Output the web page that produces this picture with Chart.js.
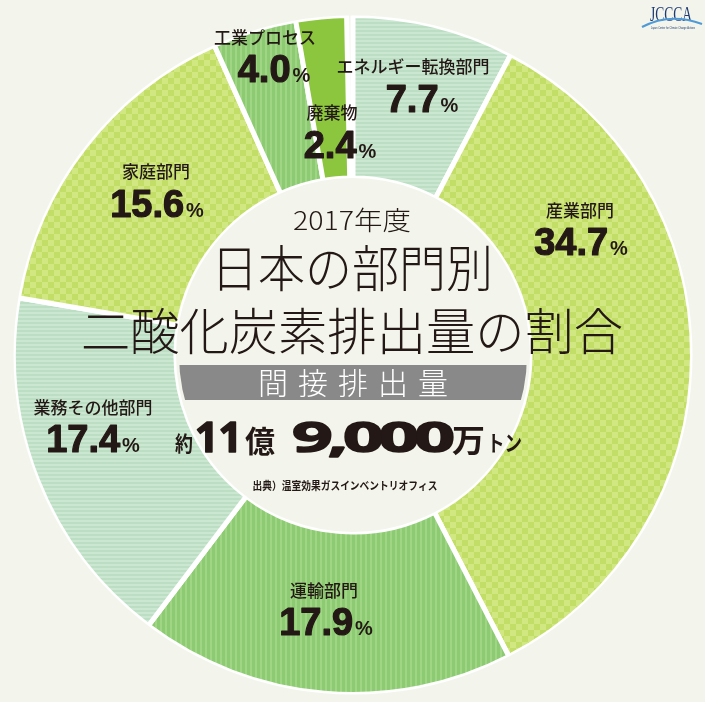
<!DOCTYPE html>
<html lang="ja">
<head>
<meta charset="utf-8">
<title>日本の部門別二酸化炭素排出量の割合</title>
<script src="https://cdn.jsdelivr.net/npm/chart.js@4.4.0/dist/chart.umd.min.js"></script>
<style>
  html, body { margin: 0; padding: 0; background: #f3f5ec; }
  #chart { display: block; }
</style>
</head>
<body>
<canvas id="chart" width="705" height="702"></canvas>
<script>
// data (clockwise from 12 o'clock)
const sectors = ['エネルギー転換部門', '産業部門', '運輸部門', '業務その他部門', '家庭部門', '工業プロセス', '廃棄物'];
const shares = [7.7, 34.7, 17.9, 17.4, 15.6, 4.0, 2.4];
const patternKinds = ['hstripe', 'checker', 'vstripe', 'hstripe', 'checker', 'vstripe', 'solid'];

// where each sector's text sits (label centre, percent group centre / baseline)
const labelPos = [
  { x: 413, y: 67, px: 422, py: 112 },
  { x: 580, y: 211, px: 581, py: 255 },
  { x: 324, y: 591, px: 326, py: 635 },
  { x: 93, y: 408, px: 93, py: 452 },
  { x: 156, y: 172, px: 157, py: 217 },
  { x: 265, y: 38, px: 274, py: 82 },
  { x: 332, y: 113, px: 340, py: 158 }
];

const BG = '#f3f5ec';
const INK = '#231815';
const JP = '"Noto Sans CJK JP", "Noto Sans CJK SC", sans-serif';
const NUM = '"Liberation Sans", Arial, sans-serif';

function makePattern(kind) {
  const c = document.createElement('canvas');
  const g = c.getContext('2d');
  if (kind === 'checker') {
    c.width = 12; c.height = 12;
    g.fillStyle = '#c3de66'; g.fillRect(0, 0, 12, 12);
    g.fillStyle = '#d0e782';
    g.fillRect(0, 0, 6, 6); g.fillRect(6, 6, 6, 6);
  } else if (kind === 'hstripe') {
    c.width = 4; c.height = 4;
    g.fillStyle = '#bcdfc4'; g.fillRect(0, 0, 4, 4);
    g.fillStyle = '#cbe7d1'; g.fillRect(0, 0, 4, 2);
  } else if (kind === 'vstripe') {
    c.width = 5; c.height = 5;
    g.fillStyle = '#8ccb71'; g.fillRect(0, 0, 5, 5);
    g.fillStyle = '#9fd585'; g.fillRect(0, 0, 2, 5);
  } else {
    return '#8cc63e';
  }
  return g.createPattern(c, 'repeat');
}

// text drawn squeezed/stretched to a given width, optionally thickened
function fitText(ctx, text, x, y, font, width, align, weight) {
  ctx.save();
  ctx.font = font;
  const w = ctx.measureText(text).width;
  const s = width ? width / w : 1;
  ctx.translate(x, y);
  ctx.scale(s, 1);
  ctx.textAlign = align || 'center';
  if (weight) {
    ctx.lineWidth = weight;
    ctx.lineJoin = 'round';
    ctx.strokeStyle = ctx.fillStyle;
    ctx.strokeText(text, 0, 0);
  }
  ctx.fillText(text, 0, 0);
  ctx.restore();
}

const overlay = {
  id: 'overlay',
  beforeDraw(chart) {
    const ctx = chart.ctx;
    ctx.save();
    ctx.fillStyle = BG;
    ctx.fillRect(0, 0, chart.width, chart.height);
    ctx.restore();
  },
  afterDatasetsDraw(chart) {
    const ctx = chart.ctx;
    const arc = chart.getDatasetMeta(0).data[0];
    const cx = arc.x, cy = arc.y;
    const rIn = arc.innerRadius, rOut = arc.outerRadius;

    // hide the white border halo on the outer and inner rims
    ctx.save();
    ctx.strokeStyle = BG;
    ctx.lineWidth = 3;
    ctx.beginPath(); ctx.arc(cx, cy, rOut + 1.5, 0, Math.PI * 2); ctx.stroke();
    ctx.beginPath(); ctx.arc(cx, cy, rIn - 1.5, 0, Math.PI * 2); ctx.stroke();
    ctx.restore();

    // sector labels
    ctx.save();
    ctx.fillStyle = INK;
    sectors.forEach((name, i) => {
      const p = labelPos[i];
      ctx.textBaseline = 'middle';
      ctx.font = '500 17px ' + JP;
      ctx.textAlign = 'center';
      ctx.fillText(name, p.x, p.y);

      ctx.textBaseline = 'alphabetic';
      const num = shares[i].toFixed(1);
      ctx.font = 'bold 38px ' + NUM;
      const nw = ctx.measureText(num).width;
      ctx.font = 'bold 20px ' + NUM;
      const pw = ctx.measureText('%').width;
      const left = p.px - (nw + 2 + pw) / 2;
      fitText(ctx, num, left, p.py, 'bold 38px ' + NUM, 0, 'left', 1.2);
      fitText(ctx, '%', left + nw + 2, p.py, 'bold 20px ' + NUM, 0, 'left');
    });
    ctx.restore();

    // centre titles
    ctx.save();
    ctx.fillStyle = INK;
    ctx.textBaseline = 'middle';
    fitText(ctx, '2017年度', cx - 1, 220, '300 26px ' + JP, 118);
    fitText(ctx, '日本の部門別', cx - 1, 268, '300 50px ' + JP, 282);
    fitText(ctx, '二酸化炭素排出量の割合', cx - 1, 331, '300 50px ' + JP, 542);
    ctx.restore();

    // grey band clipped to the hole
    ctx.save();
    ctx.beginPath();
    ctx.arc(cx, cy, rIn - 3, 0, Math.PI * 2);
    ctx.clip();
    ctx.fillStyle = '#898989';
    ctx.fillRect(cx - rIn, 365, rIn * 2, 35);
    ctx.restore();

    ctx.save();
    ctx.fillStyle = '#ffffff';
    ctx.textBaseline = 'middle';
    ctx.textAlign = 'center';
    ctx.font = '300 30px ' + JP;
    Array.from('間接排出量').forEach((ch, i) => {
      ctx.fillText(ch, cx + (i - 2) * 40, 383);
    });
    ctx.restore();

    // total amount
    ctx.save();
    ctx.fillStyle = INK;
    ctx.textBaseline = 'alphabetic';
    fitText(ctx, '約', 175, 451, 'bold 21px ' + JP, 18, 'left');
    fitText(ctx, '11', 195, 452, 'bold 42px "Noto Sans", ' + NUM, 47, 'left', 1.5);
    fitText(ctx, '億', 245, 452, 'bold 30px ' + JP, 30, 'left');
    ctx.save();
    ctx.letterSpacing = '-3px';
    fitText(ctx, '9,000', 292, 452, 'bold 42px "Noto Sans", ' + NUM, 158, 'left', 1.5);
    ctx.restore();
    fitText(ctx, '万', 452, 452, 'bold 32px ' + JP, 33, 'left');
    fitText(ctx, 'トン', 487, 451, 'bold 22px ' + JP, 35, 'left');
    ctx.textBaseline = 'middle';
    fitText(ctx, '出典）温室効果ガスインベントリオフィス', 345, 486, 'bold 11px ' + JP, 185);
    ctx.restore();

    // JCCCA mark
    ctx.save();
    ctx.fillStyle = '#1f3b73';
    ctx.textBaseline = 'alphabetic';
    fitText(ctx, 'JCCCA', 671, 21, '20px "Liberation Serif", serif', 42);
    ctx.strokeStyle = '#4f9ad6';
    ctx.lineWidth = 2;
    ctx.beginPath();
    ctx.moveTo(642, 27);
    ctx.quadraticCurveTo(670, 12, 702, 24);
    ctx.stroke();
    ctx.fillStyle = '#1f3b73';
    fitText(ctx, 'Japan Center for Climate Change Actions', 673, 29, '4px ' + NUM, 44);
    ctx.restore();
  }
};

const total = shares.reduce((a, b) => a + b, 0);

new Chart(document.getElementById('chart'), {
  type: 'doughnut',
  data: {
    labels: sectors,
    datasets: [{
      data: shares,
      backgroundColor: patternKinds.map(makePattern),
      borderColor: '#ffffff',
      borderWidth: 5,
      hoverBorderWidth: 5,
      hoverOffset: 0
    }]
  },
  options: {
    responsive: false,
    devicePixelRatio: 1,
    animation: false,
    events: [],
    cutout: 177,
    rotation: 0,
    circumference: total * 3.6,
    layout: { padding: { left: 10, right: 9, top: 13, bottom: 5 } },
    plugins: {
      legend: { display: false },
      tooltip: { enabled: false }
    }
  },
  plugins: [overlay]
});
</script>
</body>
</html>
